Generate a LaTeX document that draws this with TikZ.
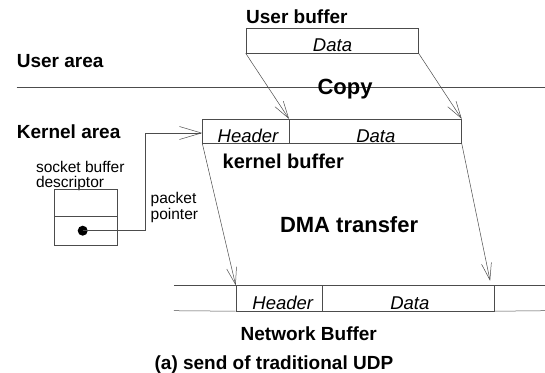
\documentclass[tikz,border=0pt]{standalone}
\usepackage{fontspec}
\setmainfont{Liberation Sans}
\usetikzlibrary{arrows.meta}
\begin{document}
\begin{tikzpicture}[x=1pt,y=-1pt,
  ln/.style={draw=black!70,line width=0.5pt},
  arr/.style={ln,-{Straight Barb[length=17pt,width=10pt,line width=0.5pt]}},
  arrw/.style={ln,-{Straight Barb[length=22pt,width=13pt,line width=0.5pt]}},
  box/.style={ln,rectangle,inner sep=0pt,anchor=north west},
  bigt/.style={font=\fontsize{22}{22}\selectfont\bfseries,inner sep=0pt},
  bt/.style={font=\fontsize{19}{19}\selectfont\bfseries,inner sep=0pt},
  it/.style={font=\fontsize{18.5}{18.5}\selectfont\itshape,inner sep=0pt,anchor=base},
  st/.style={font=\fontsize{15.5}{15.5}\selectfont,inner sep=0pt,anchor=base west}]
\useasboundingbox (0,0) rectangle (545,372);
% user buffer
\node[box,minimum width=172.4pt,minimum height=25pt] (ub) at (245.7,27.8) {};
\node[bt,anchor=base west] (ubl) at (246,23.6) {User buffer};
\node[it] (ubd) at (332.5,51.5) {Data};
% areas
\node[bt,anchor=base west] (ua) at (16.7,67.1) {User area};
\node[bt,anchor=base west] (ka) at (16.7,138.3) {Kernel area};
\coordinate (sepL) at (16.7,87.6);
\coordinate (sepR) at (545,87.6);
\draw[ln] (sepL) -- (sepR);
\node[bigt,anchor=base] (copy) at (345,94.5) {Copy};
% kernel buffer
\node[box,minimum width=86.2pt,minimum height=24pt] (kh) at (202.3,118.9) {};
\node[box,minimum width=172.7pt,minimum height=24pt] (kd) at (288.5,118.9) {};
\node[it] (khl) at (248,142) {Header};
\node[it] (kdl) at (375.8,142) {Data};
\node[bt,anchor=base west,font=\fontsize{20}{20}\selectfont\bfseries] (kbl) at (222.5,168.6) {kernel buffer};
% socket buffer descriptor
\node[st] (sb1) at (35.8,172) {socket buffer};
\node[st] (sb2) at (35.8,187.7) {descriptor};
\node[box,minimum width=62.9pt,minimum height=26.8pt] (d1) at (53.9,188.7) {};
\node[box,minimum width=62.9pt,minimum height=29.8pt] (d2) at (53.9,215.5) {};
\node[circle,fill=black,inner sep=0pt,minimum size=10pt] (dot) at (82.7,230.7) {};
\node[st] (pp1) at (150.5,203.6) {packet};
\node[st] (pp2) at (150.5,219.3) {pointer};
\coordinate (bend) at (145.3,230.7);
\coordinate (ktip) at (202.3,133);
\draw[arrw] (dot.center) -- (bend) |- (ktip);
% copy arrows
\draw[arr] (ub.south west) -- (kh.north east);
\draw[arr] (ub.south east) -- (kd.north east);
% DMA
\node[bigt,anchor=base west] (dma) at (279.8,232.1) {DMA transfer};
\node[box,minimum width=86.5pt,minimum height=25.4pt] (nh) at (235.7,285.3) {};
\node[box,minimum width=172.1pt,minimum height=25.4pt] (nd) at (322.2,285.3) {};
\coordinate (ntl) at (173.8,285.3);
\coordinate (ntr) at (545,285.3);
\coordinate (nbl) at (173.8,310.7);
\coordinate (nbr) at (545,310.7);
\draw[ln] (ntl) -- (nh.north west) (nd.north east) -- (ntr);
\draw[ln] (nbl) -- (nh.south west) (nd.south east) -- (nbr);
\node[it] (nhl) at (282.8,309.3) {Header};
\node[it] (ndl) at (409.8,309.3) {Data};
\coordinate (ntip) at (490.1,280.8);
\draw[arr] (kh.south west) -- (nh.north west);
\draw[arr] (kd.south east) -- (ntip);
\node[bt,anchor=base] (nbt) at (308.8,340.6) {Network Buffer};
\node[bt,anchor=base] (cap) at (273.9,369.4) {(a) send of traditional UDP};
\end{tikzpicture}
\end{document}
